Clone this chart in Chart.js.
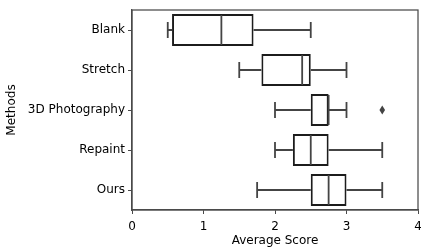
<!DOCTYPE html>
<html>
<head>
<meta charset="utf-8">
<script src="https://cdn.jsdelivr.net/npm/chart.js@4"></script>
<style>
  html, body { margin: 0; padding: 0; background: #fff; }
  #wrap { width: 421px; height: 248px; }
</style>
</head>
<body>
<div id="wrap"><canvas id="box"></canvas></div>
<script>
var methods = ['Blank', 'Stretch', '3D Photography', 'Repaint', 'Ours'];
var mins = [0.5, 1.5, 2.0, 2.0, 1.75];
var q1s = [0.56, 1.81, 2.5, 2.25, 2.5];
var medians = [1.25, 2.38, 2.75, 2.5, 2.75];
var q3s = [1.7, 2.5, 2.75, 2.75, 3.0];
var maxs = [2.5, 3.0, 3.0, 3.5, 3.5];
var outliers = [[], [], [3.5], [], []];
var xTicks = [0, 1, 2, 3, 4];

var boxEdge = '#1c1c1c';
var whiskerColor = '#444444';
var spineColor = '#4a4a4a';

Chart.defaults.font.family = 'DejaVu Sans';
Chart.defaults.font.size = 12;
Chart.defaults.color = '#000';

var boxData = [];
for (var i = 0; i < methods.length; i++) {
  boxData.push([q1s[i], q3s[i]]);
}

// whiskers, medians, outliers and the frame
var boxPlugin = {
  id: 'boxExtras',
  afterDatasetsDraw: function (chart) {
    var c = chart.ctx;
    var x = chart.scales.x;
    var y = chart.scales.y;
    var meta = chart.getDatasetMeta(0);
    c.save();
    for (var i = 0; i < methods.length; i++) {
      var yc = y.getPixelForValue(i);
      var h = meta.data[i].height;
      var capH = h / 4;
      c.strokeStyle = whiskerColor;
      c.lineWidth = 1.8;
      c.beginPath();
      c.moveTo(x.getPixelForValue(mins[i]), yc);
      c.lineTo(x.getPixelForValue(q1s[i]), yc);
      c.moveTo(x.getPixelForValue(q3s[i]), yc);
      c.lineTo(x.getPixelForValue(maxs[i]), yc);
      c.moveTo(x.getPixelForValue(mins[i]), yc - capH);
      c.lineTo(x.getPixelForValue(mins[i]), yc + capH);
      c.moveTo(x.getPixelForValue(maxs[i]), yc - capH);
      c.lineTo(x.getPixelForValue(maxs[i]), yc + capH);
      c.stroke();

      c.beginPath();
      c.moveTo(x.getPixelForValue(medians[i]), yc - h / 2 + 1);
      c.lineTo(x.getPixelForValue(medians[i]), yc + h / 2 - 1);
      c.stroke();

      c.fillStyle = whiskerColor;
      for (var k = 0; k < outliers[i].length; k++) {
        var ox = x.getPixelForValue(outliers[i][k]);
        c.beginPath();
        c.moveTo(ox, yc - 4.5);
        c.lineTo(ox + 2.8, yc);
        c.lineTo(ox, yc + 4.5);
        c.lineTo(ox - 2.8, yc);
        c.closePath();
        c.fill();
      }
    }
    var a = chart.chartArea;
    c.strokeStyle = spineColor;
    c.lineWidth = 1.25;
    c.strokeRect(a.left, a.top, a.right - a.left, a.bottom - a.top);
    c.restore();
  }
};

var ctx = document.getElementById('box');
var boxChart = new Chart(ctx, {
  type: 'bar',
  data: {
    labels: methods,
    datasets: [{
      data: boxData,
      backgroundColor: '#ffffff',
      borderColor: boxEdge,
      borderWidth: 2,
      borderSkipped: false,
      barPercentage: 0.8,
      categoryPercentage: 1.0
    }]
  },
  options: {
    indexAxis: 'y',
    responsive: true,
    maintainAspectRatio: false,
    animation: false,
    layout: { padding: { top: 10, right: 3, left: 0, bottom: 0 } },
    plugins: {
      legend: { display: false },
      tooltip: { enabled: false }
    },
    scales: {
      x: {
        type: 'linear',
        min: 0,
        max: 4,
        afterBuildTicks: function (scale) {
          scale.ticks = xTicks.map(function (v) { return { value: v }; });
        },
        afterFit: function (scale) {
          scale.height = 38;
          scale.paddingLeft = 0;
          scale.paddingRight = 0;
        },
        grid: { drawOnChartArea: false, drawTicks: true, tickLength: 4, tickColor: spineColor, tickWidth: 1 },
        border: { display: true, color: spineColor, width: 1.25 },
        ticks: { padding: 6, color: '#000' },
        title: { display: true, text: 'Average Score', padding: { top: 1, bottom: 0 } }
      },
      y: {
        afterFit: function (scale) {
          scale.width = 132;
          scale.paddingTop = 0;
          scale.paddingBottom = 0;
        },
        grid: { offset: false, drawOnChartArea: false, drawTicks: true, tickLength: 4, tickColor: spineColor, tickWidth: 1 },
        border: { display: true, color: spineColor, width: 1.25 },
        ticks: { padding: 3, color: '#000' },
        title: { display: true, text: 'Methods', padding: { top: 5, bottom: 0 } }
      }
    }
  },
  plugins: [boxPlugin]
});
</script>
</body>
</html>
